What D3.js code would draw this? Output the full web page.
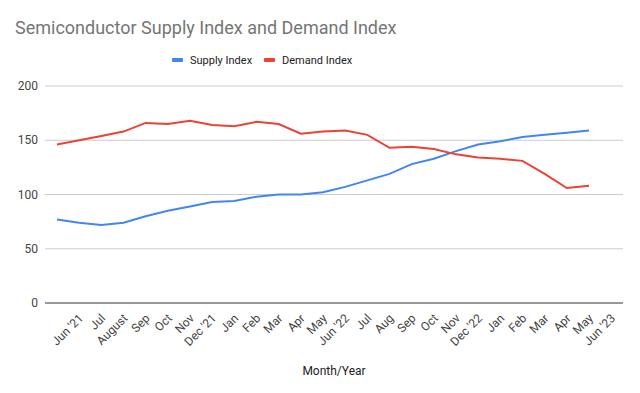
<!DOCTYPE html>
<meta charset="utf-8">
<style>
  body { margin: 0; background: #fff; }
  text { font-family: Roboto, Arial, sans-serif; }
  .grid line { stroke: #cccccc; stroke-width: 1px; }
</style>
<body>
<div id="chart"></div>
<script src="https://d3js.org/d3.v7.min.js"></script>
<script>
  var months = ["Jun '21", "Jul", "August", "Sep", "Oct", "Nov", "Dec '21", "Jan", "Feb", "Mar", "Apr", "May",
    "Jun '22", "Jul", "Aug", "Sep", "Oct", "Nov", "Dec '22", "Jan", "Feb", "Mar", "Apr", "May", "Jun '23"];
  var supply = [77, 74, 72, 74, 80, 85, 89, 93, 94, 98, 100, 100, 102, 107, 113, 119, 128, 133, 140, 146, 149, 153, 155, 157, 159];
  var demand = [146, 150, 154, 158, 166, 165, 168, 164, 163, 167, 165, 156, 158, 159, 155, 143, 144, 142, 137, 134, 133, 131, 119, 106, 108];
  var yTicks = [0, 50, 100, 150, 200];

  var w = 640, h = 393;
  var plotLeft = 45, plotRight = 623, plotTop = 86, plotBottom = 303;

  var svg = d3.select("#chart").append("svg")
    .attr("width", w)
    .attr("height", h);

  var idx = d3.range(months.length);
  var x = d3.scalePoint().domain(idx).range([57, 589]);
  var y = d3.scaleLinear().domain([0, 200]).range([plotBottom, plotTop]);

  // title
  svg.append("text")
    .attr("x", 15).attr("y", 34)
    .attr("font-size", 18)
    .attr("fill", "#757575")
    .text("Semiconductor Supply Index and Demand Index");

  // legend
  var legend = [["Supply Index", "#4285f4", 172], ["Demand Index", "#ea4335", 264]];
  legend.forEach(function (d) {
    svg.append("rect").attr("x", d[2]).attr("y", 58).attr("width", 11).attr("height", 4)
      .attr("rx", 1).attr("fill", d[1]);
    svg.append("text").attr("x", d[2] + 18).attr("y", 64)
      .attr("font-size", 11).attr("fill", "#222").text(d[0]);
  });

  // gridlines
  svg.append("g").attr("class", "grid")
    .selectAll("line").data(yTicks.filter(function (t) { return t > 0; }))
    .enter().append("line")
    .attr("x1", plotLeft).attr("x2", plotRight)
    .attr("y1", function (d) { return y(d); })
    .attr("y2", function (d) { return y(d); });

  // y labels
  svg.append("g").selectAll("text").data(yTicks).enter().append("text")
    .attr("x", 38).attr("y", function (d) { return y(d) + 4; })
    .attr("text-anchor", "end")
    .attr("font-size", 12).attr("fill", "#444")
    .text(function (d) { return d; });

  // baseline
  svg.append("line")
    .attr("x1", plotLeft).attr("x2", plotRight)
    .attr("y1", plotBottom).attr("y2", plotBottom)
    .attr("stroke", "#333").attr("stroke-width", 1);

  // x labels
  svg.append("g").selectAll("text").data(idx).enter().append("text")
    .attr("text-anchor", "end")
    .attr("font-size", 12).attr("fill", "#444")
    .attr("transform", function (i) { return "translate(" + (x(i) + 27) + ",319) rotate(-45)"; })
    .text(function (i) { return months[i]; });

  svg.append("text")
    .attr("x", 334).attr("y", 375)
    .attr("text-anchor", "middle")
    .attr("font-size", 12).attr("fill", "#222")
    .text("Month/Year");

  var line = d3.line()
    .x(function (d, i) { return x(i); })
    .y(function (d) { return y(d); });

  svg.append("path").datum(supply)
    .attr("d", line).attr("fill", "none")
    .attr("stroke", "#4285f4").attr("stroke-width", 2);

  svg.append("path").datum(demand)
    .attr("d", line).attr("fill", "none")
    .attr("stroke", "#ea4335").attr("stroke-width", 2);
</script>
</body>
